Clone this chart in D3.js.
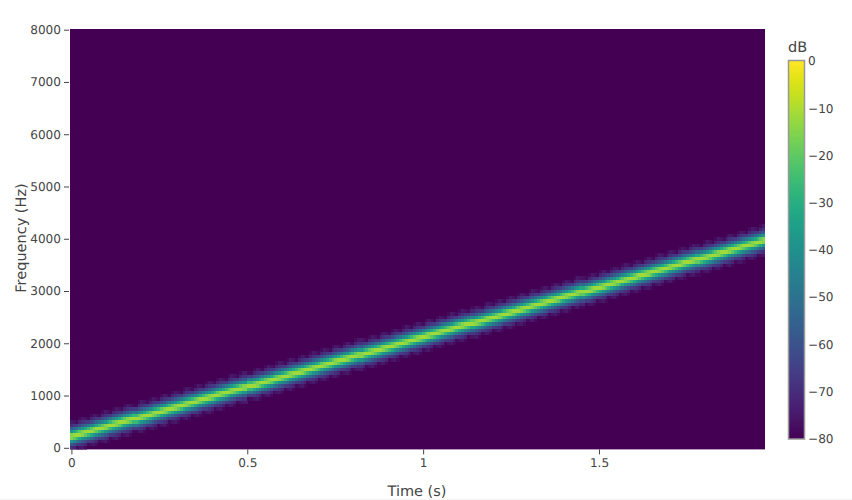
<!DOCTYPE html>
<html><head><meta charset="utf-8">
<script src="https://cdn.jsdelivr.net/npm/d3@7"></script>
<style>
html,body{margin:0;padding:0;background:#fff;}
svg{display:block;}
text{font-family:"DejaVu Sans",sans-serif;fill:#444;text-rendering:geometricPrecision;}
</style></head><body>
<svg id="c" width="852" height="500"></svg>
<script>
const hopSeconds = 0.008;
const binHz = 62.5;
const binCount = 129;
const xTicks = [0, 0.5, 1, 1.5];
const yTicks = [0, 1000, 2000, 3000, 4000, 5000, 6000, 7000, 8000];
const barTicks = [0, -10, -20, -30, -40, -50, -60, -70, -80];
const xLabel = "Time (s)";
const yLabel = "Frequency (Hz)";
const barLabel = "dB";
// ridge frequency read per time column (Hz)
const ridgeHz = [
220,235,250,266,281,296,311,327,342,357,
372,388,403,418,433,449,464,479,494,509,
525,540,555,570,585,601,616,631,646,662,
677,692,708,723,738,753,768,784,799,814,
829,845,860,875,890,906,921,936,951,966,
982,997,1012,1027,1043,1058,1073,1088,1104,1119,
1134,1149,1164,1180,1195,1210,1225,1241,1256,1271,
1286,1301,1317,1332,1347,1362,1378,1393,1408,1423,
1439,1454,1469,1484,1500,1515,1530,1545,1561,1576,
1591,1606,1621,1637,1652,1667,1682,1698,1713,1728,
1743,1758,1774,1789,1804,1819,1835,1850,1865,1880,
1896,1911,1926,1941,1956,1972,1987,2002,2017,2033,
2048,2063,2078,2094,2109,2124,2139,2154,2170,2185,
2200,2215,2231,2246,2261,2276,2292,2307,2322,2337,
2353,2368,2383,2398,2413,2429,2444,2459,2474,2490,
2505,2520,2535,2551,2566,2581,2596,2611,2627,2642,
2657,2672,2688,2703,2718,2733,2749,2764,2779,2794,
2809,2825,2840,2855,2870,2886,2901,2916,2931,2947,
2962,2977,2992,3007,3023,3038,3053,3068,3084,3099,
3114,3129,3145,3160,3175,3190,3206,3221,3236,3251,
3266,3282,3297,3312,3327,3343,3358,3373,3388,3404,
3419,3434,3449,3464,3480,3495,3510,3525,3541,3556,
3571,3586,3602,3617,3632,3647,3662,3678,3693,3708,
3723,3739,3754,3769,3784,3800,3815,3830,3845,3861,
3876,3891,3906,3921,3937,3952,3967];
// level read across the ridge, one entry per quarter bin away from its centre (dB)
const lobeDb = [-11,-12,-15,-20,-26,-32,-38,-43,-48,-53,-58,-62,-66,-67,-69,-72,-78,-76,-75,-78,-80];

const svg = d3.select("#c");
const plot = {l:70, r:765, t:29, b:449.4};
const x = d3.scaleLinear().domain([-hopSeconds/2, hopSeconds*(ridgeHz.length-0.5)]).range([plot.l, plot.r]);
const y = d3.scaleLinear().domain([0, 8000]).range([447.8, 29.7]);
const color = d3.scaleSequential(d3.interpolateViridis).domain([-80, 0]);

svg.append("rect").attr("x",0).attr("y",498.5).attr("width",852).attr("height",1.5).attr("fill","#f7f7f7");

svg.append("clipPath").attr("id","pc").append("rect").attr("x",plot.l).attr("y",plot.t).attr("width",plot.r-plot.l).attr("height",plot.b-plot.t);
svg.append("rect").attr("x",plot.l).attr("y",plot.t).attr("width",plot.r-plot.l).attr("height",plot.b-plot.t).attr("fill",color(-80));

const cells = [];
ridgeHz.forEach((f,i)=>{
  for(let k=0;k<binCount;k++){
    const idx = Math.round(Math.abs(k*binHz-f)/binHz*4);
    if(idx < lobeDb.length-1) cells.push({i,k,v:lobeDb[idx]});
  }
});
svg.append("g").attr("clip-path","url(#pc)").attr("shape-rendering","crispEdges").selectAll("rect").data(cells).join("rect")
  .attr("x",d=>x((d.i-0.5)*hopSeconds))
  .attr("width",d=>x((d.i+0.5)*hopSeconds)-x((d.i-0.5)*hopSeconds)+0.3)
  .attr("y",d=>y((d.k+0.5)*binHz))
  .attr("height",d=>y((d.k-0.5)*binHz)-y((d.k+0.5)*binHz)+0.3)
  .attr("fill",d=>color(d.v));

function style(g){
  g.select(".domain").remove();
  g.selectAll("line").attr("stroke","#444");
  g.selectAll("text").attr("font-size",12.1).attr("fill","#444");
}
svg.append("g").attr("transform",`translate(0,${plot.b})`)
  .call(d3.axisBottom(x).tickValues(xTicks).tickFormat(d=>String(d)).tickSize(5).tickPadding(4)).call(style);
svg.append("g").attr("transform",`translate(${plot.l-1},0)`)
  .call(d3.axisLeft(y).tickValues(yTicks).tickFormat(d=>String(d)).tickSize(5).tickPadding(3)).call(style);

svg.append("text").attr("x",417).attr("y",496).attr("text-anchor","middle").attr("font-size",14.5).text(xLabel);
svg.append("text").attr("transform","translate(26,238) rotate(-90)").attr("text-anchor","middle").attr("font-size",14.5).text(yLabel);

// colour bar
const bar = {l:789, r:804, t:61, b:438.5};
const by = d3.scaleLinear().domain([0,-80]).range([bar.t,bar.b]);
svg.append("g").attr("shape-rendering","crispEdges").selectAll("rect").data(d3.range(-80,0,0.25)).join("rect")
  .attr("x",bar.l).attr("width",bar.r-bar.l)
  .attr("y",d=>by(d+0.25)).attr("height",d=>by(d)-by(d+0.25)+0.5)
  .attr("fill",d=>color(d+0.125));
svg.append("rect").attr("x",bar.l-0.5).attr("y",bar.t-0.5).attr("width",bar.r-bar.l+1).attr("height",bar.b-bar.t+1)
  .attr("fill","none").attr("stroke","#999").attr("stroke-width",1.5);
svg.append("g").attr("transform",`translate(${bar.r},0)`)
  .call(d3.axisRight(by).tickValues(barTicks).tickFormat(d=>String(d).replace("-","\u2212")).tickSize(0).tickPadding(4)).call(style);
svg.append("text").attr("x",788).attr("y",52).attr("font-size",14.5).text(barLabel);
</script>
</body></html>
